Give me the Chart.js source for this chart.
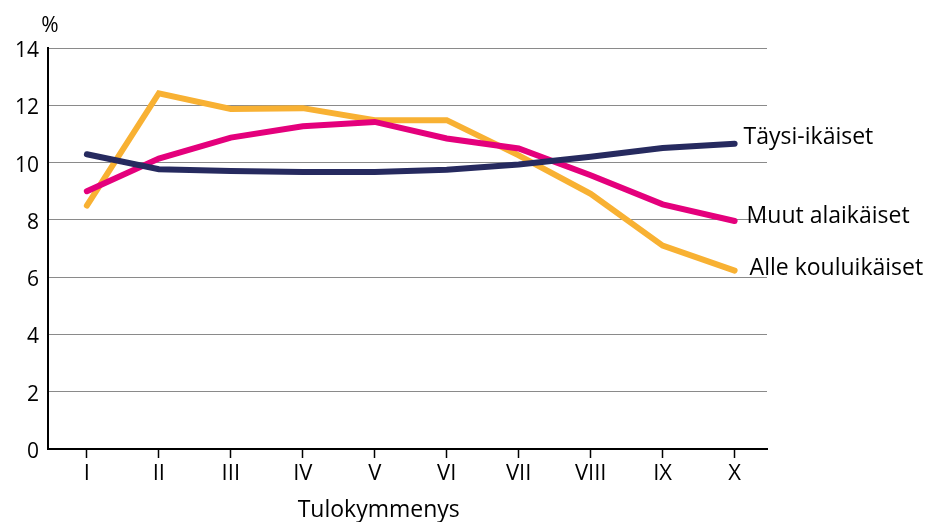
<!DOCTYPE html>
<html>
<head>
<meta charset="utf-8">
<script src="https://cdn.jsdelivr.net/npm/chart.js@4.4.1/dist/chart.umd.min.js"></script>
<style>
html,body{margin:0;padding:0;background:#fff;}
#wrap{width:930px;height:522px;}
</style>
</head>
<body>
<div id="wrap"><canvas id="c" width="930" height="522"></canvas></div>
<script>
const categories = ['I','II','III','IV','V','VI','VII','VIII','IX','X'];
const seriesNames = ['Täysi-ikäiset','Muut alaikäiset','Alle kouluikäiset'];
const taysiIkaiset = [10.29, 9.77, 9.71, 9.67, 9.67, 9.75, 9.93, 10.2, 10.51, 10.66];
const muutAlaikaiset = [9.0, 10.14, 10.87, 11.27, 11.42, 10.84, 10.49, 9.56, 8.54, 7.96];
const alleKouluikaiset = [8.5, 12.42, 11.87, 11.9, 11.48, 11.48, 10.25, 8.91, 7.1, 6.23];
const yTicks = [0, 2, 4, 6, 8, 10, 12, 14];
const yUnit = '%';
const xTitle = 'Tulokymmenys';

const FONT = '"Open Sans", "Noto Sans", sans-serif';
const colors = ['#262a5f', '#e4007c', '#f8b133'];
const labelOffsets = [[9, -6], [12, -5], [15, -2]];

function pts(arr){ return arr.map((v,i)=>({x:i, y:v})); }

const seriesList = [taysiIkaiset, muutAlaikaiset, alleKouluikaiset];

const labelPlugin = {
  id: 'labels',
  afterDraw(chart){
    const ctx = chart.ctx;
    const xs = chart.scales.x, ys = chart.scales.y;
    ctx.save();
    ctx.fillStyle = '#000';
    ctx.font = '23px ' + FONT;
    ctx.textBaseline = 'middle';
    ctx.textAlign = 'left';
    seriesList.forEach((arr, k) => {
      const last = arr.length - 1;
      const px = xs.getPixelForValue(last);
      const py = ys.getPixelForValue(arr[last]);
      ctx.fillText(seriesNames[k], px + labelOffsets[k][0], py + labelOffsets[k][1]);
    });
    ctx.textAlign = 'center';
    ctx.fillText(xTitle, xs.getPixelForValue(4) + 4, 510);
    ctx.font = '21px ' + FONT;
    ctx.fillText(yUnit, chart.chartArea.left + 2, 26);
    ctx.restore();
  }
};

new Chart(document.getElementById('c'), {
  type: 'line',
  data: {
    datasets: seriesList.map((arr, k) => ({
      label: seriesNames[k],
      data: pts(arr),
      borderColor: colors[k],
      backgroundColor: colors[k],
      borderWidth: 6,
      borderCapStyle: 'round',
      borderJoinStyle: 'miter',
      pointRadius: 0,
      tension: 0,
      fill: false,
      order: k
    }))
  },
  options: {
    responsive: false,
    animation: false,
    devicePixelRatio: 1,
    layout: { padding: { left: 0, right: 163, top: 48, bottom: 0 } },
    plugins: { legend: { display: false }, tooltip: { enabled: false } },
    scales: {
      x: {
        type: 'linear',
        min: -0.54,
        max: 9.45,
        afterBuildTicks(scale){ scale.ticks = categories.map((c,i)=>({value:i})); },
        afterFit(scale){ scale.height = 73; },
        grid: { drawOnChartArea: false, drawTicks: true, tickLength: 9, tickColor: '#000', tickWidth: 1.5 },
        border: { display: true, color: '#000', width: 2 },
        ticks: {
          autoSkip: false,
          maxRotation: 0,
          padding: 3,
          color: '#000',
          font: { family: FONT, size: 22 },
          callback(v){ return categories[v] !== undefined ? categories[v] : ''; }
        }
      },
      y: {
        min: 0,
        max: 14,
        afterBuildTicks(scale){ scale.ticks = yTicks.map(v=>({value:v})); },
        afterFit(scale){ scale.width = 48; },
        grid: { color: '#8a8a8a', lineWidth: 1, drawTicks: false },
        border: { display: true, color: '#000', width: 2 },
        ticks: {
          padding: 9,
          labelOffset: 3,
          color: '#000',
          font: { family: FONT, size: 21 }
        }
      }
    }
  },
  plugins: [labelPlugin]
});
</script>
</body>
</html>
